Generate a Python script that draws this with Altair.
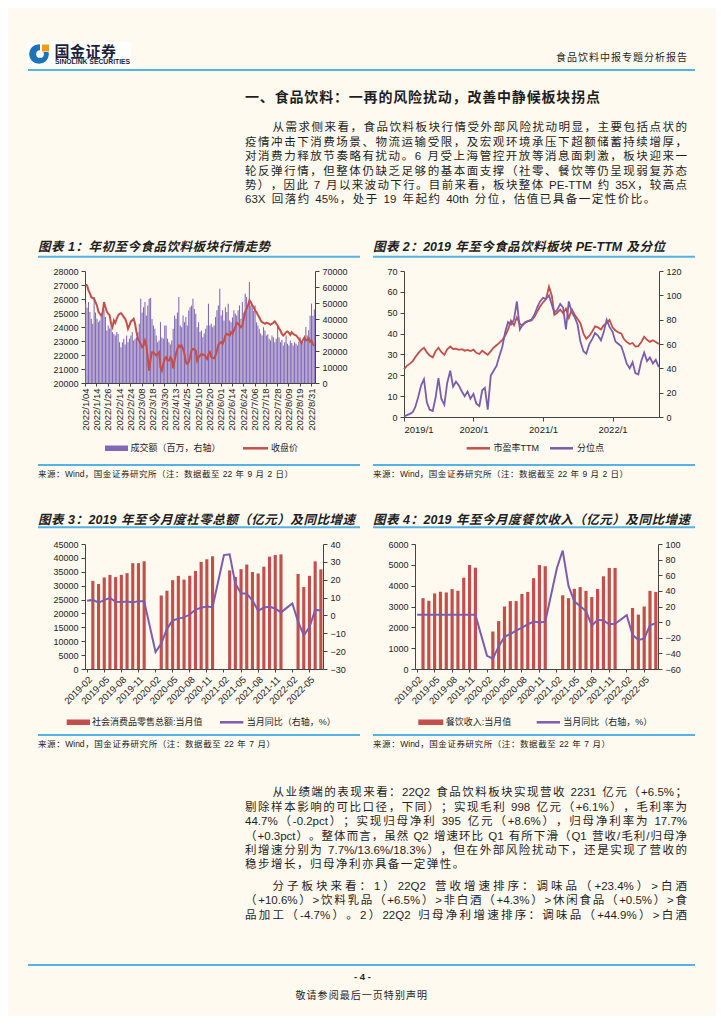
import altair as alt
import pandas as pd

# ======================= DATA =======================
c1_ticks = ["2022/1/04", "2022/1/14", "2022/1/26", "2022/2/14", "2022/2/24", "2022/3/08",
            "2022/3/18", "2022/3/30", "2022/4/13", "2022/4/25", "2022/5/10", "2022/5/20",
            "2022/6/01", "2022/6/14", "2022/6/24", "2022/7/06", "2022/7/18", "2022/7/28",
            "2022/8/09", "2022/8/19", "2022/8/31"]
c1_close = [27020, 26970, 26615, 26400, 26140, 26070, 26020, 25780, 25540, 25100,
            24945, 24825, 25015, 25780, 25420, 25110, 24950, 24825, 24230, 23990,
            24470, 24300, 24590, 24825, 24945, 24990, 24870, 24700, 24590, 24300,
            23870, 24110, 24400, 24470, 24590, 24230, 23630, 23150, 23000, 22800,
            22560, 22680, 23030, 22680, 21800, 20890, 21720, 22200, 22200, 22080,
            21960, 22100, 22200, 21120, 20890, 21360, 21720, 21840, 21600, 21600,
            21840, 21720, 21050, 21600, 22100, 22440, 22680, 22560, 22680, 22440,
            22080, 21480, 21360, 21500, 21840, 22320, 22440, 22400, 22320, 21600,
            21840, 21960, 22080, 22010, 22010, 21840, 21720, 22080, 22200, 21840,
            21800, 21770, 21960, 22320, 22720, 22850, 22920, 22800, 23030, 23390,
            23510, 23450, 23390, 23630, 23510, 23750, 23990, 24300, 24230, 24100,
            23990, 24110, 24590, 25060, 25300, 25540, 25900, 25780, 25540, 25420,
            25180, 25060, 24850, 24700, 24470, 24350, 24300, 24230, 24300, 24280,
            24230, 24160, 24230, 24300, 24400, 24230, 24110, 23900, 23750, 23510,
            23390, 23500, 23630, 23680, 23580, 23440, 23630, 23510, 23440, 23400,
            23300, 23150, 23000, 22850, 23100, 23250, 23050, 23100, 23200, 22950,
            23050, 22750, 22650]
c1_turnover = [49500, 47000, 50600, 44300, 40100, 37000, 53700, 44000, 40100, 38000,
               39100, 42200, 43300, 46000, 41200, 32800, 36000, 34000, 36000, 31800,
               30700, 29700, 31800, 30700, 25500, 22400, 25500, 27600, 24000, 29700,
               25500, 27600, 29700, 31800, 26500, 27600, 28600, 31800, 37000, 52700,
               44000, 47400, 50600, 42200, 48500, 52700, 53100, 40000, 36000, 33900,
               29700, 25500, 26500, 38000, 28500, 27600, 36000, 36000, 27600, 25500,
               24000, 26500, 33900, 42200, 40100, 44000, 53700, 36000, 34900, 42200,
               38000, 41200, 36000, 45300, 47400, 48500, 52700, 46300, 43300, 34900,
               38000, 31800, 32800, 28600, 31000, 33900, 36000, 49500, 36000, 37000,
               34900, 36000, 41200, 45400, 48500, 58900, 42200, 45400, 39000, 47400,
               44300, 49500, 39100, 38000, 41000, 45400, 43300, 42200, 45400, 48500,
               40100, 50600, 44000, 55800, 53700, 48500, 63100, 48500, 49500, 45000,
               48500, 38000, 36000, 33900, 31000, 29700, 34900, 32800, 29700, 30500,
               27600, 26500, 29700, 28600, 25500, 27600, 36000, 28600, 25500, 27000,
               23400, 25500, 29700, 24500, 23400, 26500, 25000, 23400, 25500, 24500,
               23400, 26000, 28600, 24500, 25500, 29700, 35000, 29700, 33000, 42000,
               49600, 42000, 46000]

c2_years = ["2019", "2020", "2021", "2022"]
c2_pe = [23.0, 24.5, 25.6, 26.8, 28.6, 30.5, 32.2, 33.2, 31.0, 29.5,
         28.6, 31.5, 33.2, 31.2, 29.8, 32.4, 33.8, 32.6, 32.8, 32.2,
         32.5, 31.8, 32.2, 31.6, 32.3, 30.8, 30.2, 31.8, 30.8, 29.8,
         31.6, 33.2, 34.4, 35.5, 37.0, 39.0, 42.0, 46.2, 44.0, 47.8,
         44.5, 44.0, 45.5, 46.0, 46.3, 48.0, 50.5, 53.0, 55.0, 56.5,
         62.5, 58.0, 49.0, 50.0, 51.5, 49.8, 52.0, 47.5, 51.5, 49.0,
         47.0, 45.0, 40.0, 37.5, 39.0, 41.0, 43.5, 43.0, 42.0, 44.0,
         45.0, 46.5, 43.0, 41.5, 40.5, 40.0, 37.5, 36.0, 35.0, 35.5,
         33.8, 34.0, 36.0, 38.5, 37.0, 36.0, 36.8, 36.0, 35.0]
c2_pct = [0.5, 1.5, 2.5, 4.0, 8.0, 16.0, 26.0, 31.0, 12.0, 6.0,
          5.0, 16.0, 32.0, 15.0, 10.0, 28.0, 38.0, 25.0, 29.0, 26.0,
          21.0, 17.0, 21.0, 15.0, 19.0, 11.0, 9.0, 22.0, 24.0, 6.0,
          34.0, 38.0, 42.0, 50.0, 58.0, 70.0, 78.0, 76.0, 80.0, 95.0,
          72.0, 76.0, 78.0, 79.0, 80.0, 84.0, 90.0, 95.0, 98.0, 97.0,
          100.0, 92.0, 86.0, 88.0, 93.0, 90.0, 72.0, 95.0, 86.0, 82.0,
          76.0, 62.0, 54.0, 52.0, 60.0, 64.0, 69.0, 67.0, 63.0, 70.0,
          80.0, 74.0, 70.0, 62.0, 60.0, 58.0, 52.0, 44.0, 40.0, 45.0,
          36.0, 35.0, 46.0, 53.0, 46.0, 49.0, 44.0, 47.0, 41.0]
# semi-monthly observation dates (1st and 16th of each month from 2019-01)
c2_dates = [f"{2019 + k // 24}-{(k % 24) // 2 + 1:02d}-{1 if k % 2 == 0 else 16:02d}"
            for k in range(len(c2_pe))]

c34_months = [f"{y}-{m:02d}" for y in range(2019, 2023) for m in range(1, 13)][1:43]
c3_sales = [None, 31726, 30586, 32956, 33878, 33073, 33896, 34495, 38104, 38094, 38777,
            None, None, 26450, 28178, 31973, 33526, 32203, 33571, 35295, 38576, 39514, 40566,
            None, None, 35484, 33153, 35945, 37586, 34925, 34395, 36833, 40454, 41043, 41269,
            None, None, 34233, 29483, 33547, 38742, 35870]
c3_yoy = [8.2, 8.7, 7.2, 8.6, 9.8, 7.6, 7.5, 7.8, 7.2, 8.0, 8.0,
          None, -20.5, -15.8, -7.5, -2.8, -1.8, -1.1, 0.5, 3.3, 4.3, 5.0, 4.6,
          None, 33.8, 34.2, 17.7, 12.4, 12.1, 8.5, 2.5, 4.4, 4.9, 3.9, 1.7,
          None, 6.7, -3.5, -11.1, -6.7, 3.1, 2.7]
c4_rev = [None, 3400, 3275, 3627, 3707, 3675, 3836, 3756, 4382, 4992, 4864,
          None, None, 1800, 2300, 3000, 3260, 3260, 3600, 3700, 4360, 4990, 4930,
          None, None, 3540, 3400, 3850, 3930, 3750, 3450, 3840, 4450, 4850, 4850,
          None, None, 2930, 2610, 3000, 3750, 3700]
c4_yoy = [9.6, 9.6, 9.5, 9.5, 9.5, 9.4, 9.4, 9.4, 9.4, 9.4, 9.4,
          None, -43.1, -46.8, -31.1, -18.9, -15.2, -11.0, -7.0, -2.9, 0.8, -0.6, 0.4,
          None, 68.9, 91.6, 46.4, 26.6, 20.2, 14.3, -4.5, 3.1, 2.0, -2.7, -2.2,
          None, 8.9, -16.4, -22.7, -21.1, -4.0, -1.5]

# ======================= TEXT =======================
logo_cn = "国金证券"
logo_en = "SINOLINK SECURITIES"
report_name = "食品饮料中报专题分析报告"
heading = "一、食品饮料：一再的风险扰动，改善中静候板块拐点"
para1 = ["从需求侧来看，食品饮料板块行情受外部风险扰动明显，主要包括点状的",
         "疫情冲击下消费场景、物流运输受限，及宏观环境承压下超额储蓄持续增厚，",
         "对消费力释放节奏略有扰动。6 月受上海管控开放等消息面刺激，板块迎来一",
         "轮反弹行情，但整体仍缺乏足够的基本面支撑（社零、餐饮等仍呈现弱复苏态",
         "势），因此 7 月以来波动下行。目前来看，板块整体 PE-TTM 约 35X，较高点",
         "63X 回落约 45%，处于 19 年起约 40th 分位，估值已具备一定性价比。"]
para2 = ["从业绩端的表现来看：22Q2 食品饮料板块实现营收 2231 亿元（+6.5%；",
         "剔除样本影响的可比口径，下同）；实现毛利 998 亿元（+6.1%），毛利率为",
         "44.7%（-0.2pct）；实现归母净利 395 亿元（+8.6%），归母净利率为 17.7%",
         "（+0.3pct）。整体而言，虽然 Q2 增速环比 Q1 有所下滑（Q1 营收/毛利/归母净",
         "利增速分别为 7.7%/13.6%/18.3%），但在外部风险扰动下，还是实现了营收的",
         "稳步增长，归母净利亦具备一定弹性。"]
para3 = ["分子板块来看：1）22Q2 营收增速排序：调味品（+23.4%）>白酒",
         "（+10.6%）>饮料乳品（+6.5%）>非白酒（+4.3%）>休闲食品（+0.5%）>食",
         "品加工（-4.7%）。2）22Q2 归母净利增速排序：调味品（+44.9%）>白酒"]
title1 = "图表 1：年初至今食品饮料板块行情走势"
title2 = "图表 2：2019 年至今食品饮料板块 PE-TTM 及分位"
title3 = "图表 3：2019 年至今月度社零总额（亿元）及同比增速"
title4 = "图表 4：2019 年至今月度餐饮收入（亿元）及同比增速"
source12 = "来源：Wind，国金证券研究所（注：数据截至 22 年 9 月 2 日）"
source34 = "来源：Wind，国金证券研究所（注：数据截至 22 年 7 月）"
leg1 = ["成交额（百万，右轴）", "收盘价"]
leg2 = ["市盈率TTM", "分位点"]
leg3 = ["社会消费品零售总额:当月值", "当月同比（右轴，%）"]
leg4 = ["餐饮收入:当月值", "当月同比（右轴，%）"]
page_no = "- 4 -"
disclaimer = "敬请参阅最后一页特别声明"

# ======================= STYLE =======================
BG = "#FEFAEF"
INK = "#1E1E1E"
RED = "#C44E4B"
PURPLE = "#7A5DAF"
BAR_PURPLE = "#8268B8"
BLUE = "#52B4E6"
FONT = "Liberation Sans, Noto Sans CJK SC"
LAT = "Liberation Sans"
DUMMY = pd.DataFrame({"d": [0]})

AW = {" ": 0.278, ".": 0.278, ",": 0.278, ":": 0.278, ";": 0.278, "%": 0.889, "-": 0.333,
      "+": 0.584, "/": 0.278, ">": 0.584, "(": 0.333, ")": 0.333, "P": 0.667, "E": 0.667,
      "T": 0.611, "M": 0.833, "X": 0.667, "Q": 0.778, "W": 0.944, "i": 0.222, "n": 0.556,
      "d": 0.556, "p": 0.556, "c": 0.5, "t": 0.278, "h": 0.556}


def char_w(ch):
    if ord(ch) < 128:
        return AW.get(ch, 0.556)
    return 1.0


def tokenize(s):
    toks, run = [], ""
    for ch in s:
        if ord(ch) < 128 and ch != " ":
            run += ch
        else:
            if run:
                toks.append(run)
                run = ""
            toks.append(ch)
    if run:
        toks.append(run)
    return toks


def layout(s, x0, y, fs, x1=None, gap=0.0):
    toks = tokenize(s)
    ws = [sum(char_w(c) for c in t) * fs for t in toks]
    if x1 is not None and len(toks) > 1:
        gap = (x1 - x0 - sum(ws)) / (len(toks) - 1)
    rows, cx = [], x0
    for t, w in zip(toks, ws):
        if t.strip():
            rows.append({"t": t, "x": cx, "y": y})
        cx += w + gap
    return rows, gap


def text_layer(rows, fs, weight="normal", style="normal", color=INK):
    return alt.Chart(pd.DataFrame(rows)).mark_text(
        align="left", baseline="middle", font=FONT, fontSize=fs, fontWeight=weight,
        fontStyle=style, color=color
    ).encode(x=alt.X("x:Q", scale=None, axis=None),
             y=alt.Y("y:Q", scale=None, axis=None),
             text="t:N")


def line_text(s, x0, y, fs, x1=None, weight="normal", style="normal", color=INK):
    rows, _ = layout(s, x0, y, fs, x1=x1)
    return text_layer(rows, fs, weight, style, color)


def paragraph(lines, x0, x0_first, x1, y0, lh, fs, justify_last=False):
    rows, gaps = [], []
    for k, line in enumerate(lines):
        xs = x0_first if k == 0 else x0
        if k == len(lines) - 1 and not justify_last:
            g = sum(gaps) / len(gaps) if gaps else 0
            r, _ = layout(line, xs, y0 + k * lh, fs, gap=g)
        else:
            r, g = layout(line, xs, y0 + k * lh, fs, x1=x1)
            gaps.append(g)
        rows += r
    return text_layer(rows, fs)


def hrule(x1, x2, y, color=BLUE, w=2.0):
    return alt.Chart(DUMMY).mark_rule(color=color, strokeWidth=w).encode(
        x=alt.value(x1), x2=alt.value(x2), y=alt.value(y))


def rect(x1, x2, y1, y2, color):
    return alt.Chart(DUMMY).mark_rect(color=color).encode(
        x=alt.value(x1), x2=alt.value(x2), y=alt.value(y1), y2=alt.value(y2))


def deco(width, layers, rtop, rbot):
    # first element pins the vertical extent of the row (drawn in background colour)
    base = rect(0, 1, -rtop, rbot, BG)
    return alt.layer(base, *layers).properties(width=width, height=10)


def spacer(w):
    return alt.Chart(DUMMY).mark_text(text=" ").encode(
        x=alt.value(0), y=alt.value(0)).properties(width=w, height=10)


# ======================= CHART 1 =======================
n1 = len(c1_close)
df1_line = pd.DataFrame({"i": list(range(n1)), "close": c1_close})
df1_bar = pd.DataFrame({"i": list(range(len(c1_turnover))), "turn": c1_turnover})
lab1 = "[" + ",".join(f"'{s}'" for s in c1_ticks) + "][round(datum.value / 8)]"
x1 = alt.X("i:O", scale=alt.Scale(domain=list(range(n1)), paddingInner=0.25, paddingOuter=0.1),
           axis=alt.Axis(values=list(range(0, n1, 8)), labelExpr=lab1, labelAngle=270,
                         labelAlign="right", labelBaseline="middle", labelFontSize=9.5,
                         tickSize=3, labelPadding=2, title=None, labelOverlap=False))
bars1 = alt.Chart(df1_bar).mark_bar(color=BAR_PURPLE).encode(
    x=x1,
    y=alt.Y("turn:Q", scale=alt.Scale(domain=[0, 70000], nice=False),
            axis=alt.Axis(orient="right", values=list(range(0, 70001, 10000)), format="d",
                          title=None, labelOverlap=False)))
line1 = alt.Chart(df1_line).mark_line(color=RED, strokeWidth=2).encode(
    x=x1,
    y=alt.Y("close:Q", scale=alt.Scale(domain=[20000, 28000], nice=False),
            axis=alt.Axis(orient="left", values=list(range(20000, 28001, 1000)), format="d",
                          title=None, labelOverlap=False)))
chart1 = alt.layer(bars1, line1).resolve_scale(y="independent").properties(width=230, height=112)

# ======================= CHART 2 =======================
df2 = pd.DataFrame({"date": c2_dates, "pe": c2_pe, "pct": c2_pct})
x2 = alt.X("date:T",
           scale=alt.Scale(domain=[alt.DateTime(year=2019, month=1, date=1),
                                   alt.DateTime(year=2022, month=9, date=2)]),
           axis=alt.Axis(values=[alt.DateTime(year=int(y), month=1, date=1) for y in c2_years],
                         format="%Y/%-m", labelAngle=0, title=None, tickSize=4,
                         labelFontSize=9.5, labelOverlap=False))
pe_line = alt.Chart(df2).mark_line(color=RED, strokeWidth=1.8).encode(
    x=x2,
    y=alt.Y("pe:Q", scale=alt.Scale(domain=[0, 70], nice=False),
            axis=alt.Axis(orient="left", values=list(range(0, 71, 10)), title=None)))
pct_line = alt.Chart(df2).mark_line(color=PURPLE, strokeWidth=1.8).encode(
    x=x2,
    y=alt.Y("pct:Q", scale=alt.Scale(domain=[0, 120], nice=False),
            axis=alt.Axis(orient="right", values=list(range(0, 121, 20)), title=None)))
chart2 = alt.layer(pe_line, pct_line).resolve_scale(y="independent").properties(width=255, height=146)


# ======================= CHART 3 & 4 =======================
def monthly_chart(vals, yoy, fld, yfld, ydom, ystep, rdom, rstep, width):
    dfb = pd.DataFrame({"m": c34_months, fld: vals}).dropna()
    dfl = pd.DataFrame({"m": c34_months, yfld: yoy}).dropna()
    xm = alt.X("m:O", scale=alt.Scale(domain=c34_months, paddingInner=0.45, paddingOuter=0.1),
               axis=alt.Axis(values=c34_months[::3], labelAngle=315, labelAlign="right",
                             labelBaseline="top", labelFontSize=9.5, tickSize=3,
                             labelPadding=2, title=None, labelOverlap=False))
    b = alt.Chart(dfb).mark_bar(color=RED).encode(
        x=xm,
        y=alt.Y(f"{fld}:Q", scale=alt.Scale(domain=ydom, nice=False),
                axis=alt.Axis(orient="left", values=list(range(ydom[0], ydom[1] + 1, ystep)),
                              format="d", title=None, labelOverlap=False)))
    ln = alt.Chart(dfl).mark_line(color=PURPLE, strokeWidth=2).encode(
        x=xm,
        y=alt.Y(f"{yfld}:Q", scale=alt.Scale(domain=rdom, nice=False),
                axis=alt.Axis(orient="right", values=list(range(rdom[0], rdom[1] + 1, rstep)),
                              format="d", title=None, labelOverlap=False)))
    return alt.layer(b, ln).resolve_scale(y="independent").properties(width=width, height=125)


chart3 = monthly_chart(c3_sales, c3_yoy, "sales", "yoy3", [0, 45000], 5000, [-30, 40], 10, 238)
chart4 = monthly_chart(c4_rev, c4_yoy, "rev", "yoy4", [0, 6000], 1000, [-60, 100], 20, 243)

# ======================= TOP CANVAS (page y 8 -> 235) =======================
TOP_H = 227
top_layers = [
    rect(0, 708, 0, TOP_H, BG),
    rect(19, 123, 34, 58, "white"),
    alt.Chart(DUMMY).mark_circle(size=390, opacity=1, color="#1C73B9").encode(
        x=alt.value(31), y=alt.value(46)),
    alt.Chart(DUMMY).mark_circle(size=60, opacity=1, color="white").encode(
        x=alt.value(32), y=alt.value(46)),
    rect(32, 43, 34, 44, "white"),
    rect(34, 41, 36.5, 43.5, "#F39A1E"),
    line_text(logo_cn, 46.5, 43.5, 15, x1=108, weight="bold", color="#1A1F3C"),
    alt.Chart(DUMMY).mark_text(align="left", baseline="middle", font=LAT, fontSize=6.8,
                               fontWeight="bold", color="#1A1F3C").encode(
        x=alt.value(47), y=alt.value(53.5), text=alt.value(logo_en)),
    line_text(report_name, 548, 50, 10, x1=679),
    hrule(20, 687, 62, w=2.2),
    line_text(heading, 237, 90.3, 14, x1=592, weight="bold"),
    paragraph(para1, 237, 264.5, 679, 120.3, 14.4, 11.5),
]
top = alt.layer(*top_layers).properties(width=708, height=TOP_H)

# ======================= ROW 1 (plot top at page y 271) =======================
row1_deco = deco(77, [
    line_text(title1, 30, -24.3, 12.5, x1=262, weight="bold", style="italic"),
    line_text(title2, 365, -24.3, 12.5, x1=657, weight="bold", style="italic"),
    hrule(30, 352, -14.3),
    hrule(365, 687, -14.3),
    rect(97, 120, 174.5, 180, BAR_PURPLE),
    line_text(leg1[0], 122.5, 177.3, 9),
    hrule(235, 260, 177.3, color=RED, w=2.5),
    line_text(leg1[1], 263, 177.3, 9),
    hrule(458.7, 482, 177.3, color=RED, w=2.5),
    line_text(leg2[0], 485.5, 177.3, 9),
    hrule(542, 565, 177.3, color=PURPLE, w=2.5),
    line_text(leg2[1], 569, 177.3, 9),
    hrule(30, 352, 194),
    hrule(365, 687, 194),
    line_text(source12, 30, 203.3, 8.5, x1=285, color="#222"),
    line_text(source12, 365, 203.3, 8.5, x1=620, color="#222"),
], 36, 212)
row1 = alt.hconcat(row1_deco, chart1, spacer(89), chart2, spacing=0, bounds="flush")

# ======================= ROW 2 (plot top at page y 544) =======================
row2_deco = deco(77, [
    line_text(title3, 30, -24, 12.5, x1=347, weight="bold", style="italic"),
    line_text(title4, 365, -24, 12.5, x1=682, weight="bold", style="italic"),
    hrule(30, 352, -16.7),
    hrule(365, 687, -16.7),
    rect(58.7, 82, 175.5, 181, RED),
    line_text(leg3[0], 84, 178.3, 9),
    hrule(212, 235.3, 178.3, color=PURPLE, w=2.5),
    line_text(leg3[1], 238.7, 178.3, 9),
    rect(410.3, 435.3, 175.5, 181, RED),
    line_text(leg4[0], 437.7, 178.3, 9),
    hrule(528.7, 552, 178.3, color=PURPLE, w=2.5),
    line_text(leg4[1], 555.3, 178.3, 9),
    hrule(30, 352, 191),
    hrule(365, 687, 191),
    line_text(source34, 30, 200.3, 8.5, x1=267, color="#222"),
    line_text(source34, 365, 200.3, 8.5, x1=602, color="#222"),
], 61, 210)
row2 = alt.hconcat(row2_deco, chart3, spacer(92), chart4, spacing=0, bounds="flush")

# ======================= BOTTOM CANVAS (page y 754 -> 1016) =======================
BOT_H = 262
bottom_layers = [
    rect(0, 708, 0, BOT_H, BG),
    paragraph(para2, 237, 264.5, 679, 39.3, 14.4, 11.5),
    paragraph(para3, 237, 264.5, 679, 132.7, 14.4, 11.5, justify_last=True),
    hrule(20, 687, 211, w=2.2),
    alt.Chart(DUMMY).mark_text(align="center", baseline="middle", font=LAT, fontSize=9.5,
                               fontWeight="bold", color=INK).encode(
        x=alt.value(354.4), y=alt.value(223), text=alt.value(page_no)),
    line_text(disclaimer, 287.5, 242, 10, x1=419),
]
bottom = alt.layer(*bottom_layers).properties(width=708, height=BOT_H)

chart = alt.vconcat(top, row1, row2, bottom, spacing=0).properties(
    padding=0, background=BG
).configure_view(strokeWidth=0).configure_axis(
    labelFont=LAT, labelFontSize=9, labelColor="#222", domainColor="#444", tickColor="#444",
    tickSize=4, labelPadding=3, grid=False, domainWidth=1
)

chart.save("out.html", embed_options={"renderer": "svg", "actions": False})
